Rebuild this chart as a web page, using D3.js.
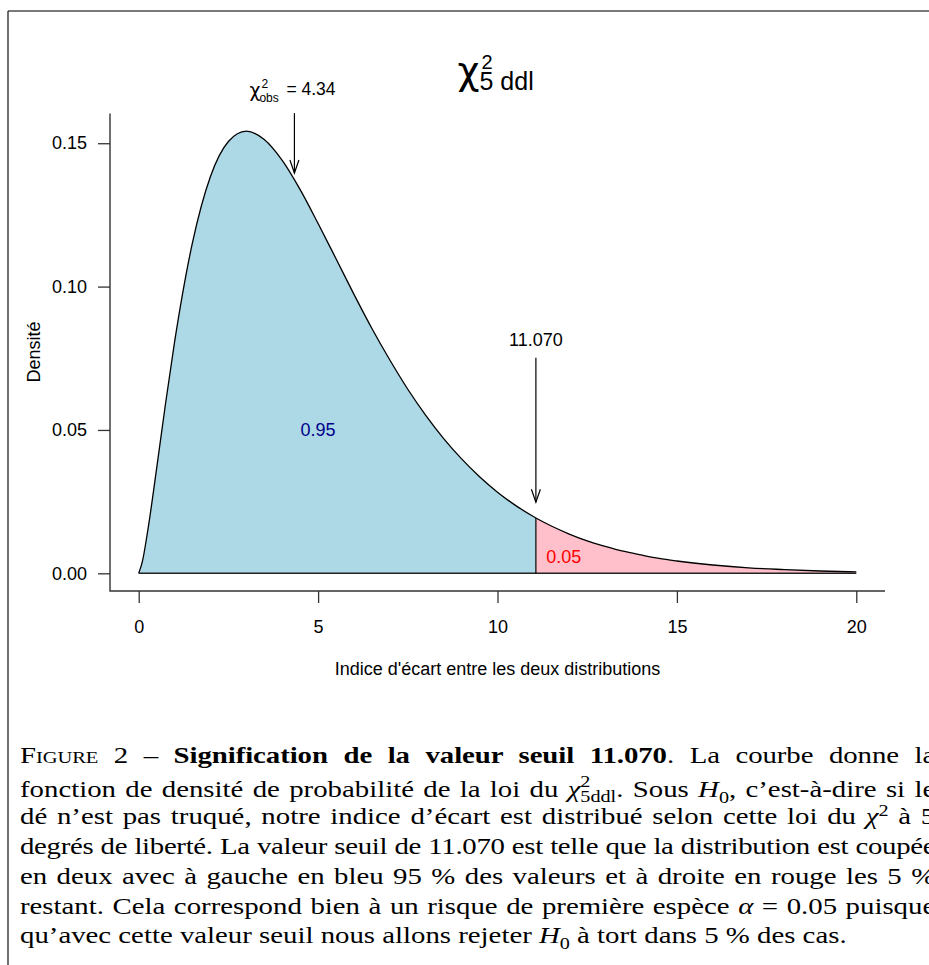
<!DOCTYPE html>
<html>
<head>
<meta charset="utf-8">
<script src="https://cdn.jsdelivr.net/npm/d3@7"></script>
<style>
  html, body { margin: 0; padding: 0; background: #fff; overflow: hidden; }
  #wrap { position: relative; width: 929px; height: 965px; overflow: hidden; }
  svg { position: absolute; left: 0; top: 0; }
  .cap {
    position: absolute; left: 20px; width: 715px;
    transform: scaleX(1.28); transform-origin: 0 0;
    font-family: "Liberation Serif", serif; font-size: 22.5px; line-height: 22.5px;
    white-space: nowrap; text-align: justify; text-align-last: justify; color: #000;
  }
  .cap.last { text-align-last: left; }
  .cap i { font-style: italic; }
  .sc { font-variant: small-caps; }
  .cap sub, .cap sup { font-size: 0.7em; line-height: 0; }
  .stack { display: inline-block; vertical-align: -0.32em; font-size: 0.7em; line-height: 0.95; }
  .stack span { display: block; }
</style>
</head>
<body>
<div id="wrap"></div>
<script>
// density of the curve
const xs = [0, 0.1, 0.25, 0.5, 0.75, 1, 1.5, 2, 2.5, 3, 3.5, 4, 4.5, 5, 5.5, 6, 6.5, 7, 7.5, 8,
  8.5, 9, 9.5, 10, 10.5, 11, 11.07, 11.5, 12, 12.5, 13, 13.5, 14, 14.5, 15, 16, 17, 18, 19, 20];
const dens = [0, 0.0040, 0.0147, 0.0366, 0.0594, 0.0807, 0.1154, 0.1384, 0.1506, 0.1542, 0.1513,
  0.1440, 0.1338, 0.1220, 0.1097, 0.0973, 0.0854, 0.0744, 0.0642, 0.0551, 0.0470, 0.0399, 0.0337,
  0.0283, 0.0237, 0.0198, 0.0193, 0.0165, 0.0137, 0.0113, 0.0094, 0.0077, 0.0064, 0.0052, 0.0043,
  0.0029, 0.0019, 0.0013, 0.0008, 0.0005];
const seuil = 11.07;
const xTicks = [0, 5, 10, 15, 20];
const yTicks = [0, 0.05, 0.10, 0.15];
// arrows: x, start y, end y
const arrows = [
  { x: 4.34, y0: 0.1605, y1: 0.1396 },
  { x: 11.07, y0: 0.0752, y1: 0.0248 },
];
const captionLines = [
  '<span class="sc">Figure</span> 2 – <b>Signification de la valeur seuil 11.070</b>. La courbe donne la',
  'fonction de densité de probabilité de la loi du <i>χ</i><span class="stack"><span>2</span><span>5ddl</span></span>. Sous <i>H</i><sub>0</sub>, c’est-à-dire si le',
  'dé n’est pas truqué, notre indice d’écart est distribué selon cette loi du <i>χ</i><sup>2</sup> à 5',
  'degrés de liberté. La valeur seuil de 11.070 est telle que la distribution est coupée',
  'en deux avec à gauche en bleu 95 % des valeurs et à droite en rouge les 5 %',
  'restant. Cela correspond bien à un risque de première espèce <i>α</i> = 0.05 puisque',
  'qu’avec cette valeur seuil nous allons rejeter <i>H</i><sub>0</sub> à tort dans 5 % des cas.',
];

const data = xs.map((x, i) => ({ x, d: dens[i] }));
const width = 929, height = 965;
const wrap = d3.select("#wrap");
const svg = wrap.append("svg").attr("width", width).attr("height", height);

const x = d3.scaleLinear().domain([-0.8, 20.8]).range([110, 885]);
const y = d3.scaleLinear().domain([-0.00617, 0.16037]).range([591, 113.5]);
const font = "Liberation Sans, Arial, sans-serif";
const greek = "DejaVu Sans, sans-serif";

// frame around the figure
svg.append("line").attr("x1", 8).attr("x2", width + 5).attr("y1", 11).attr("y2", 11)
  .attr("stroke", "#7a7a7a").attr("stroke-width", 2);
svg.append("line").attr("x1", 8).attr("x2", 8).attr("y1", 11).attr("y2", height + 5)
  .attr("stroke", "#222").attr("stroke-width", 1.3);

// filled areas
const area = d3.area().curve(d3.curveMonotoneX)
  .x((d) => x(d.x)).y0(y(0)).y1((d) => y(d.d));
svg.append("path").datum(data.filter((d) => d.x <= seuil))
  .attr("fill", "#add8e6").attr("d", area);
svg.append("path").datum(data.filter((d) => d.x >= seuil))
  .attr("fill", "#ffc0cb").attr("d", area);

const line = d3.line().curve(d3.curveMonotoneX).x((d) => x(d.x)).y((d) => y(d.d));
svg.append("path").datum(data).attr("fill", "none").attr("stroke", "#000")
  .attr("stroke-width", 1.3).attr("d", line);
svg.append("line").attr("x1", x(0)).attr("x2", x(20)).attr("y1", y(0)).attr("y2", y(0))
  .attr("stroke", "#222").attr("stroke-width", 1.6);
svg.append("line").attr("x1", x(seuil)).attr("x2", x(seuil))
  .attr("y1", y(0)).attr("y2", y(dens[xs.indexOf(seuil)]))
  .attr("stroke", "#000").attr("stroke-width", 1.2);

// L-shaped box
svg.append("path")
  .attr("d", `M${x.range()[0]},${y.range()[1]}V${y.range()[0]}H${x.range()[1]}`)
  .attr("fill", "none").attr("stroke", "#333").attr("stroke-width", 1.4);

const yAxis = (g) => g.attr("transform", `translate(${x.range()[0]},0)`)
  .call(d3.axisLeft(y).tickValues(yTicks).tickFormat(d3.format(".2f")).tickSize(12).tickPadding(11))
  .call((g) => g.select(".domain").remove());
const xAxis = (g) => g.attr("transform", `translate(0,${y.range()[0]})`)
  .call(d3.axisBottom(x).tickValues(xTicks).tickSize(12).tickPadding(17))
  .call((g) => g.select(".domain").remove());
svg.append("g").call(yAxis);
svg.append("g").call(xAxis);
svg.selectAll(".tick line").attr("stroke", "#333").attr("stroke-width", 1.3);
svg.selectAll(".tick text").attr("font-family", font).attr("font-size", 18).attr("fill", "#000");

svg.append("text").attr("transform", "translate(39.5,352) rotate(-90)")
  .attr("text-anchor", "middle").attr("font-family", font).attr("font-size", 18)
  .text("Densité");
svg.append("text").attr("x", (x.range()[0] + x.range()[1]) / 2).attr("y", 675)
  .attr("text-anchor", "middle").attr("font-family", font).attr("font-size", 18)
  .text("Indice d'écart entre les deux distributions");

// arrows
arrows.forEach((a) => {
  const ax = x(a.x), ya = y(a.y0), yb = y(a.y1);
  svg.append("line").attr("x1", ax).attr("x2", ax).attr("y1", ya).attr("y2", yb)
    .attr("stroke", "#000").attr("stroke-width", 1.2);
  svg.append("path").attr("d", `M${ax - 4.5},${yb - 13}L${ax},${yb}L${ax + 4.5},${yb - 13}`)
    .attr("fill", "none").attr("stroke", "#000").attr("stroke-width", 1.2);
});

// area labels
svg.append("text").attr("x", x(5)).attr("y", y(0.05)).attr("dy", "0.35em")
  .attr("text-anchor", "middle").attr("font-family", font).attr("font-size", 18)
  .attr("fill", "#00008b").text("0.95");
svg.append("text").attr("x", x(11.85)).attr("y", y(0.0059)).attr("dy", "0.35em")
  .attr("text-anchor", "middle").attr("font-family", font).attr("font-size", 18)
  .attr("fill", "#ff0000").text("0.05");
svg.append("text").attr("x", x(seuil)).attr("y", y(0.0814)).attr("dy", "0.35em")
  .attr("text-anchor", "middle").attr("font-family", font).attr("font-size", 18)
  .text("11.070");

// chi2 obs label
const obs = svg.append("g").attr("font-family", font)
  .attr("transform", `translate(${x(4.34) - 45},95)`);
obs.append("text").attr("x", 0).attr("y", 2).attr("font-family", greek).attr("font-size", 19).text("χ");
obs.append("text").attr("x", 12).attr("y", -7).attr("font-size", 12).text("2");
obs.append("text").attr("x", 10).attr("y", 7).attr("font-size", 12).text("obs");
obs.append("text").attr("x", 37).attr("y", 0).attr("font-size", 17.5).text("= 4.34");

// title
const title = svg.append("g").attr("font-family", font)
  .attr("transform", `translate(${(x.range()[0] + x.range()[1]) / 2 - 40},0)`);
title.append("text").attr("x", 0).attr("y", 84).attr("font-family", greek).attr("font-size", 38).text("χ");
title.append("text").attr("x", 24).attr("y", 69).attr("font-size", 20).text("2");
title.append("text").attr("x", 22).attr("y", 90).attr("font-size", 25).text("5 ddl");

// caption
const baselines = [763, 793, 824, 854, 884, 914, 943];
const capW = 715;
wrap.selectAll("div.cap").data(captionLines).join("div")
  .attr("class", (d, i) => (i === captionLines.length - 1 ? "cap last" : "cap"))
  .style("top", (d, i) => `${baselines[i] - 18.3}px`)
  .html((d) => `<span class="in">${d}</span>`)
  .each(function () {
    // tighten a line whose natural width is wider than the column
    const inner = this.querySelector(".in");
    const w = inner.getBoundingClientRect().width / 1.28;
    if (w > capW) {
      const n = inner.textContent.length;
      this.style.letterSpacing = `${(capW - w) / n - 0.05}px`;
    }
  });
</script>
</body>
</html>
